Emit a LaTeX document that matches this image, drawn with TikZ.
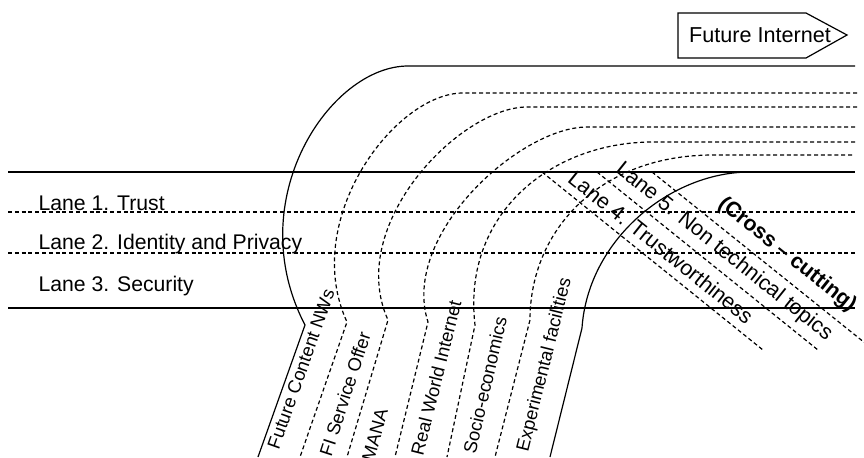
\documentclass[tikz,border=0pt]{standalone}
\usepackage{fontspec}
\setmainfont{Liberation Sans}

\begin{document}
\begin{tikzpicture}[x=0.5pt,y=-0.5pt,line width=0.6pt,
  dsh/.style={dash pattern=on 2pt off 1.4pt},
  lanelbl/.style={font=\fontsize{10.6}{12}\selectfont,anchor=base west,inner sep=0pt},
  roadlbl/.style={font=\fontsize{9.2}{11}\selectfont,inner sep=0pt},
  crosslbl/.style={font=\fontsize{10.7}{12}\selectfont,inner sep=0pt,rotate=-38.7}]
  \clip (0,0) rectangle (864,457);
  \draw (8,172)--(855,172);
  \draw[dsh] (8,212)--(855,212);
  \draw[dsh] (8,253)--(855,253);
  \draw (8,308)--(855,308);
  \node[lanelbl] (trust) at (38,210) {Lane 1. Trust};
  \node[lanelbl] (privacy) at (38,249) {Lane 2. Identity and Privacy};
  \node[lanelbl] (security) at (38,291) {Lane 3. Security};
  \draw (678,13)--(806,13)--(847,35)--(806,58)--(678,58)--cycle;
  \node[font=\fontsize{10.8}{12}\selectfont] (fi) at (760,35) {Future Internet};
  \draw (855,66)--(408,66) .. controls (330,66) and (240,200) .. (305,325) -- (258,457);
  \draw[dsh] (857,93)--(463,93) .. controls (395,93) and (300,220) .. (347,322) -- (300,457);
  \draw[dsh] (857,107)--(527,107) .. controls (460,107) and (345,225) .. (388,320) -- (347,457);
  \draw[dsh] (855,127)--(587,127) .. controls (520,127) and (400,235) .. (428,322) -- (395,457);
  \draw[dsh] (855,142)--(653,142) .. controls (550,142) and (462,215) .. (475,325) -- (447,457);
  \draw[dsh] (852,155)--(713,155) .. controls (600,155) and (530,230) .. (530,320) -- (495,457);
  \draw (750,172) .. controls (670,172) and (588,240) .. (582,328) -- (550,457);
  \node[roadlbl,rotate=70.5] (fcn) at (301,369) {Future Content NWs};
  \node[roadlbl,rotate=72] (fiso) at (345,394) {FI Service Offer};
  \node[roadlbl,rotate=74.5] (mana) at (375,435) {MANA};
  \node[roadlbl,rotate=76] (rwi) at (436,378) {Real World Internet};
  \node[roadlbl,rotate=77] (socio) at (485,385) {Socio-economics};
  \node[roadlbl,rotate=76] (expfac) at (545,365) {Experimental facilities};
  \draw[dsh] (542,172)--(763,350);
  \draw[dsh] (597,172)--(818,350);
  \draw[dsh] (652,172)--(870,347);
  \node[crosslbl] (trustw) at (661,247) {Lane 4. Trustworthiness};
  \node[crosslbl] (nontech) at (724,252) {Lane 5. Non technical topics};
  \node[crosslbl,font=\fontsize{10.7}{12}\selectfont\bfseries] (cross) at (787,255) {(Cross -- cutting)};
\end{tikzpicture}
\end{document}
